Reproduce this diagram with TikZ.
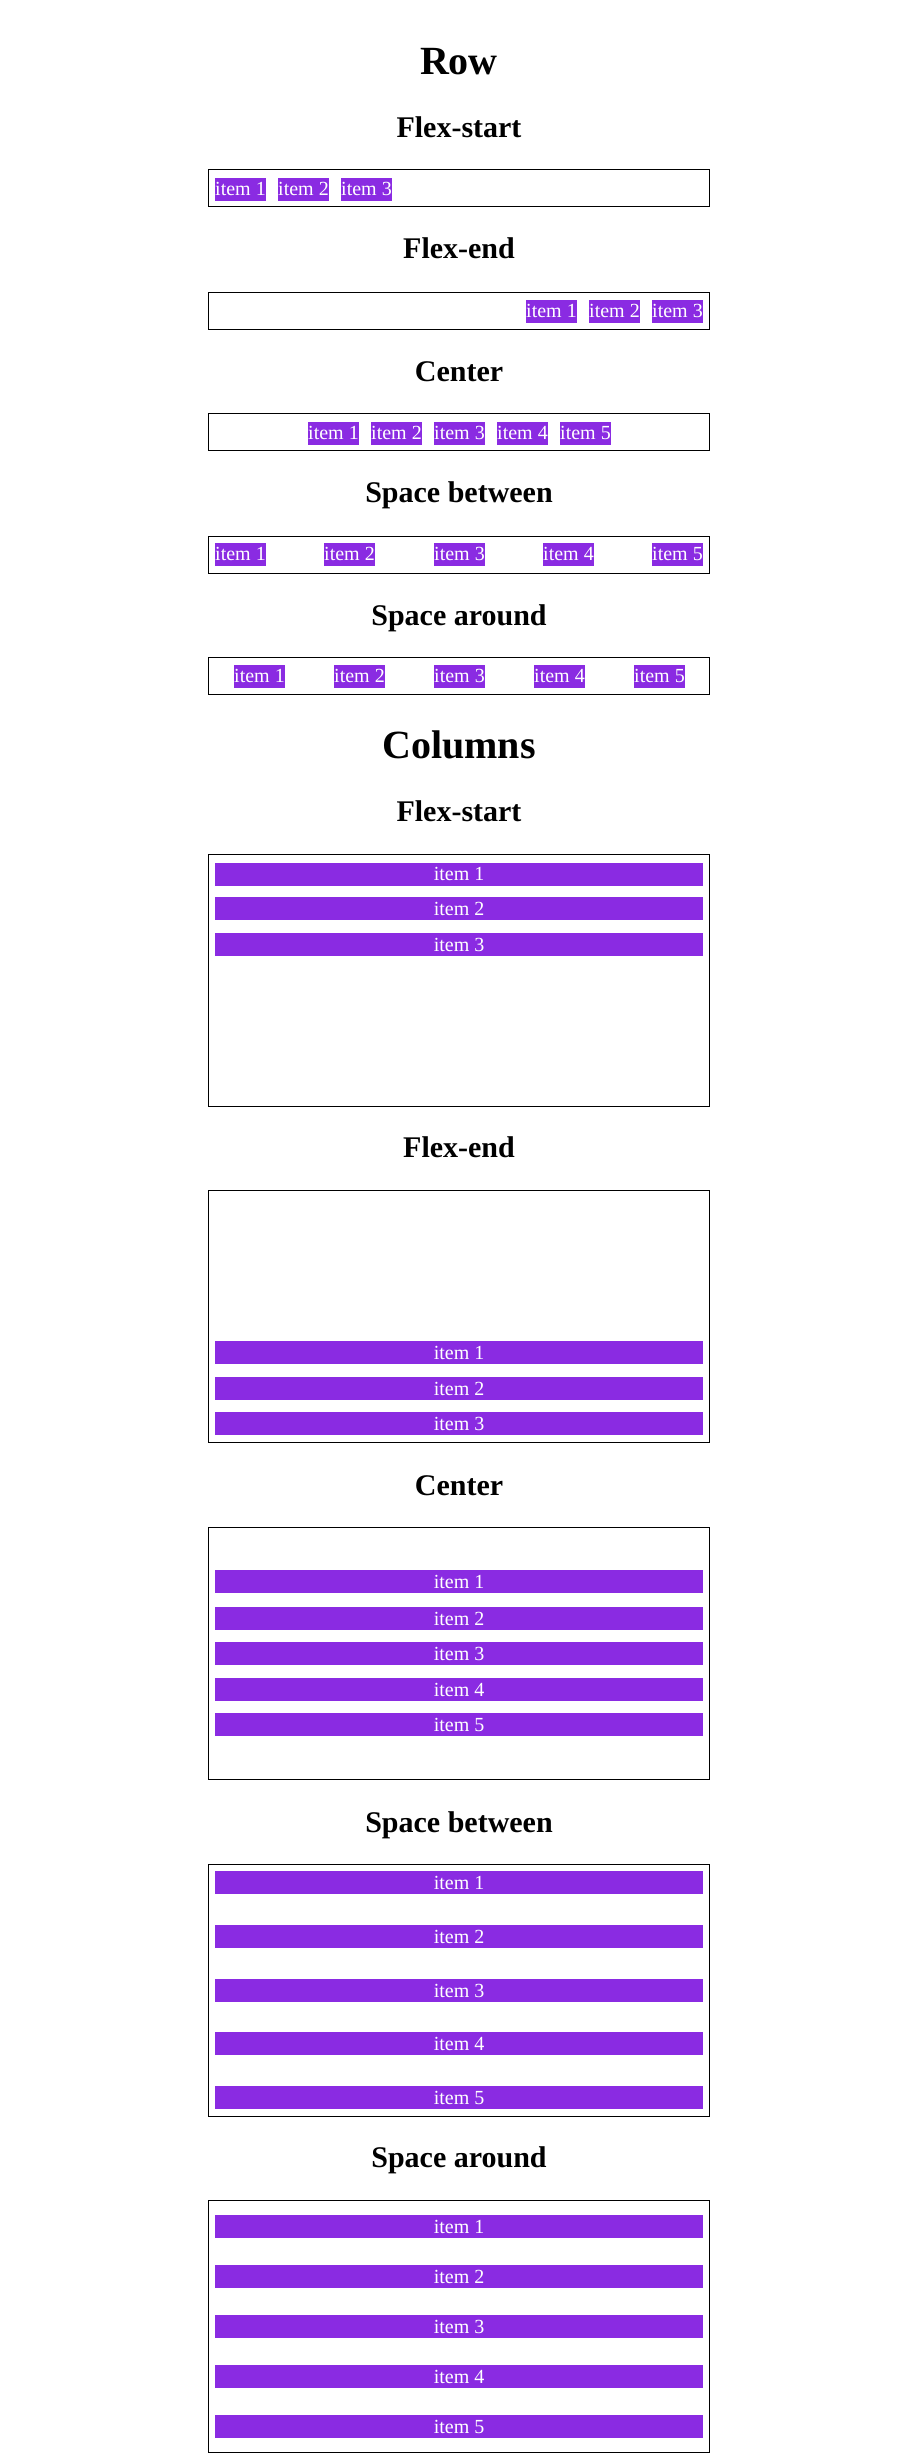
\documentclass[tikz,border=0pt]{standalone}
\usepackage{fontspec}
\setmainfont{Liberation Serif}
\definecolor{itemc}{HTML}{8A2BE2}
\begin{document}
\begin{tikzpicture}[x=1pt,y=-1pt,
  hone/.style={font=\fontsize{40}{48}\selectfont\bfseries, anchor=base, inner sep=0},
  htwo/.style={font=\fontsize{30}{36}\selectfont\bfseries, anchor=base, inner sep=0},
  flexbox/.style={draw=black, line width=1pt, anchor=north west, inner sep=0, minimum width=501pt},
  rowbox/.style={flexbox, minimum height=37pt},
  colbox/.style={flexbox, minimum height=252pt},
  ritem/.style={fill=itemc, text=white, font=\fontsize{20}{23}\selectfont, inner sep=0, text height=18pt, text depth=5pt, anchor=north west},
  citem/.style={ritem, minimum width=487.7pt},
]
\useasboundingbox[fill=white] (0,0) rectangle (918,2463);

% ---------------- Row ----------------
\node[hone] (hrow) at (459,74) {Row};

\node[htwo] (hrfs) at (459,137) {Flex-start};
\node[rowbox] (brfs) at (208.3,169.3) {};
\foreach \x [count=\i] in {215,278,341}
  \node[ritem] (rfs\i) at (\x,177.3) {item \i};

\node[htwo] (hrfe) at (459,258) {Flex-end};
\node[rowbox] (brfe) at (208.3,291.5) {};
\foreach \x [count=\i] in {526,589,652}
  \node[ritem] (rfe\i) at (\x,299.3) {item \i};

\node[htwo] (hrc) at (459,381) {Center};
\node[rowbox] (brc) at (208.3,413.3) {};
\foreach \x [count=\i] in {308,371,434,497,560}
  \node[ritem] (rc\i) at (\x,421.3) {item \i};

\node[htwo] (hrsb) at (459,502.7) {Space between};
\node[rowbox] (brsb) at (208.3,535.5) {};
\foreach \x [count=\i] in {215,324,434,543,652}
  \node[ritem] (rsb\i) at (\x,542.3) {item \i};

\node[htwo] (hrsa) at (459,625) {Space around};
\node[rowbox] (brsa) at (208.3,657.3) {};
\foreach \x [count=\i] in {234,334,434,534,634}
  \node[ritem] (rsa\i) at (\x,664.3) {item \i};

% ---------------- Columns ----------------
\node[hone] (hcol) at (459,758.3) {Columns};

\node[htwo] (hcfs) at (459,821.7) {Flex-start};
\node[colbox] (bcfs) at (208.3,854.3) {};
\foreach \y [count=\i] in {862.3,897,933}
  \node[citem] (cfs\i) at (215,\y) {item \i};

\node[htwo] (hcfe) at (459,1157.3) {Flex-end};
\node[colbox] (bcfe) at (208.3,1190.3) {};
\foreach \y [count=\i] in {1341,1377,1412}
  \node[citem] (cfe\i) at (215,\y) {item \i};

\node[htwo] (hcc) at (459,1495) {Center};
\node[colbox] (bcc) at (208.3,1527.3) {};
\foreach \y [count=\i] in {1570,1607,1642,1678,1713}
  \node[citem] (cc\i) at (215,\y) {item \i};

\node[htwo] (hcsb) at (459,1832.3) {Space between};
\node[colbox] (bcsb) at (208.3,1864.3) {};
\foreach \y [count=\i] in {1871,1925,1979,2032,2086}
  \node[citem] (csb\i) at (215,\y) {item \i};

\node[htwo] (hcsa) at (459,2167.7) {Space around};
\node[colbox] (bcsa) at (208.3,2200.3) {};
\foreach \y [count=\i] in {2215,2265,2315,2365,2415}
  \node[citem] (csa\i) at (215,\y) {item \i};
\end{tikzpicture}
\end{document}
